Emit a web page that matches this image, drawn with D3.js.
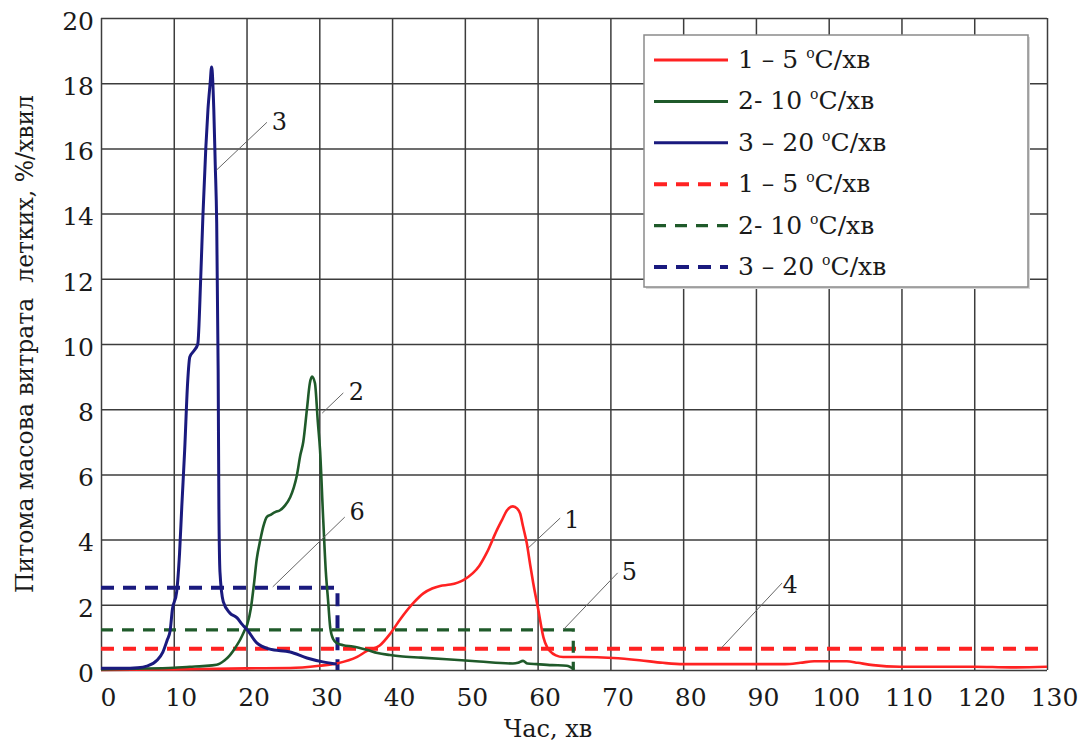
<!DOCTYPE html>
<html>
<head>
<meta charset="utf-8">
<script src="https://cdn.jsdelivr.net/npm/d3@7"></script>
<style>
    body { margin: 0; background: #fff; }
</style>
</head>
<body>
<svg id="chart" width="1087" height="745"></svg>
<script>
// ---------------------------  DATA  ---------------------------
// x = time (min), y = specific mass rate of volatiles (%/min)

const red_curve = [      // 1 – 5 ºC/хв
    [0, 0.0], [10, 0.02], [20, 0.05], [26, 0.06], [30, 0.13], [32.4, 0.2], [35.2, 0.4], [36.5, 0.58],
    [38.3, 0.75], [39.7, 1.1], [41.1, 1.55], [42.9, 2.05], [44.3, 2.35], [45.5, 2.5], [46.6, 2.58],
    [48.0, 2.62], [49.8, 2.76], [51.1, 2.97], [52, 3.2], [53.0, 3.59], [54.4, 4.29], [55.1, 4.6],
    [55.8, 4.9], [56.6, 5.02], [57.2, 4.95], [57.6, 4.8], [58.0, 4.4], [58.5, 3.9], [59.0, 3.2],
    [59.4, 2.66], [60.1, 1.84], [60.8, 1.0], [61.3, 0.7], [61.7, 0.58], [62.5, 0.45], [63.5, 0.4],
    [66, 0.4], [70.4, 0.37], [74, 0.3], [77.2, 0.22], [80, 0.18], [84.1, 0.18], [89.6, 0.18],
    [94, 0.18], [96.1, 0.22], [98, 0.27], [102.5, 0.27], [104, 0.22], [106.1, 0.15], [109.8, 0.1],
    [115, 0.1], [120, 0.1], [125, 0.08], [130, 0.1]
];

const green_curve = [    // 2- 10 ºC/хв
    [0, 0.02], [5, 0.04], [10, 0.07], [12.2, 0.1], [14, 0.12], [15.9, 0.16], [17, 0.3], [17.7, 0.45],
    [18.5, 0.7], [19.1, 0.92], [19.7, 1.2], [20.1, 1.4], [20.6, 1.9], [21.0, 2.6], [21.4, 3.4],
    [21.9, 4.0], [22.3, 4.4], [22.8, 4.7], [23.2, 4.75], [24.0, 4.85], [24.6, 4.9], [25.3, 5.05],
    [26.0, 5.3], [26.5, 5.6], [26.9, 5.95], [27.4, 6.6], [27.8, 7.0], [28.3, 8.0], [28.7, 8.8],
    [29.0, 9.0], [29.4, 8.8], [29.8, 7.6], [30.1, 6.75], [30.5, 4.8], [30.9, 3.0], [31.2, 2.15],
    [31.5, 1.3], [31.9, 0.95], [32.4, 0.83], [33.3, 0.76], [34.6, 0.72], [36.5, 0.62], [38, 0.52],
    [39.7, 0.46], [41.1, 0.42], [44, 0.38], [47.5, 0.33], [52, 0.26], [56.6, 0.2], [57.3, 0.22],
    [58.0, 0.28], [58.6, 0.2], [59.9, 0.18], [62, 0.15], [64.0, 0.13], [65.0, 0.02]
];

const blue_curve = [     // 3 – 20 ºC/хв
    [0, 0.05], [3, 0.05], [5, 0.07], [6.3, 0.12], [7.7, 0.3], [8.5, 0.55], [9.1, 0.92], [9.5, 1.2],
    [9.8, 1.84], [10.4, 2.4], [10.8, 3.6], [11.1, 5.0], [11.5, 6.75], [11.9, 8.8], [12.2, 9.6],
    [12.8, 9.8], [13.3, 10.0], [13.7, 12.0], [14.0, 13.9], [14.4, 16.0], [14.7, 17.2], [15.0, 18.0],
    [15.2, 18.5], [15.5, 17.2], [15.7, 15.5], [15.9, 13.7], [16.1, 9.2], [16.2, 5.0], [16.35, 3.0],
    [16.8, 2.1], [17.7, 1.75], [18.7, 1.6], [19.4, 1.4], [20.1, 1.23], [21.4, 0.83], [23.2, 0.64],
    [26, 0.55], [28.3, 0.37], [30.5, 0.25], [32.4, 0.18]
];

// averaged rates (dashed lines 4, 5, 6)
const red_mean   = [[0, 0.65], [130, 0.65]];
const green_mean = [[0, 1.23], [64.9, 1.23], [64.9, 0]];
const blue_mean  = [[0, 2.52], [32.5, 2.52], [32.5, 0]];

const x_ticks = [0, 10, 20, 30, 40, 50, 60, 70, 80, 90, 100, 110, 120, 130];
const y_ticks = [0, 2, 4, 6, 8, 10, 12, 14, 16, 18, 20];

const legend_labels = ["1 – 5 ", "2- 10 ", "3 – 20 ", "1 – 5 ", "2- 10 ", "3 – 20 "];

// curve numbers: label position and leader end, in data units
const callouts = [
    {label: "1", lx: 64.7, ly: 4.36, x1: 63.1, y1: 4.66, x2: 58.7, y2: 3.74},
    {label: "2", lx: 35.1, ly: 8.28, x1: 33.3, y1: 8.5,  x2: 30.4, y2: 7.88},
    {label: "3", lx: 24.5, ly: 16.56, x1: 22.8, y1: 16.8, x2: 15.9, y2: 15.34},
    {label: "4", lx: 94.7, ly: 2.36, x1: 93.6, y1: 2.67, x2: 85.1, y2: 0.64},
    {label: "5", lx: 72.6, ly: 2.76, x1: 71.0, y1: 2.98, x2: 63.5, y2: 1.23},
    {label: "6", lx: 35.2, ly: 4.6,  x1: 33.5, y1: 4.69, x2: 23.6, y2: 2.55}
];

const FONT = "DejaVu Serif";   // the only serif face that resolves here

// ---------------------------  LAYOUT  ---------------------------
const outer_width = 1087, outer_height = 745;
const margins = {left: 101, top: 18, right: 40, bottom: 75};
const plot_width = outer_width - margins.left - margins.right;
const plot_height = outer_height - margins.top - margins.bottom;

const svg = d3.select("#chart");
const g = svg.append("g").attr("transform", `translate(${margins.left}, ${margins.top})`);

const x_scale = d3.scaleLinear().domain([0, 130]).range([0, plot_width]);
const y_scale = d3.scaleLinear().domain([0, 20]).range([plot_height, 0]);

// ---------------------------  GRID + AXES  ---------------------------
const x_axis = g.append("g")
    .attr("transform", `translate(0, ${plot_height})`)
    .call(d3.axisBottom(x_scale).tickValues(x_ticks).tickSize(-plot_height).tickPadding(18));

const y_axis = g.append("g")
    .call(d3.axisLeft(y_scale).tickValues(y_ticks).tickSize(-plot_width).tickPadding(7));

[x_axis, y_axis].forEach(a => {
    a.attr("font-family", FONT);
    a.select(".domain").remove();
    a.selectAll(".tick line").attr("stroke", "#3c3c3c").attr("stroke-width", 1.5);
    a.selectAll(".tick text")
        .attr("font-family", FONT)
        .attr("font-size", 25)
        .attr("fill", "#1a1a1a");
});
x_axis.selectAll(".tick text").attr("dx", 7);
y_axis.selectAll(".tick text").attr("dy", "0.45em");

// ---------------------------  LINES  ---------------------------
const line_gen = d3.line()
    .x(d => x_scale(d[0]))
    .y(d => y_scale(d[1]));

const curve_gen = d3.line()
    .x(d => x_scale(d[0]))
    .y(d => y_scale(d[1]))
    .curve(d3.curveMonotoneX);

const dashed = [
    {data: red_mean,   color: "#ff2222", width: 4,   dash: "13,9"},
    {data: green_mean, color: "#1f5a2a", width: 3.2, dash: "12,9"},
    {data: blue_mean,  color: "#1a1a7e", width: 4,   dash: "13,9"}
];
dashed.forEach(s => {
    g.append("path")
        .attr("d", line_gen(s.data))
        .attr("fill", "none")
        .attr("stroke", s.color)
        .attr("stroke-width", s.width)
        .attr("stroke-dasharray", s.dash);
});

const solid = [
    {data: red_curve,   color: "#ff2222", width: 2.6},
    {data: green_curve, color: "#1f5a2a", width: 2.6},
    {data: blue_curve,  color: "#1a1a7e", width: 3}
];
solid.forEach(s => {
    g.append("path")
        .attr("d", curve_gen(s.data))
        .attr("fill", "none")
        .attr("stroke", s.color)
        .attr("stroke-width", s.width)
        .attr("stroke-linejoin", "round");
});

// ---------------------------  CALLOUTS  ---------------------------
callouts.forEach(c => {
    g.append("line")
        .attr("x1", x_scale(c.x1)).attr("y1", y_scale(c.y1))
        .attr("x2", x_scale(c.x2)).attr("y2", y_scale(c.y2))
        .attr("stroke", "#666").attr("stroke-width", 1);
    g.append("text")
        .attr("x", x_scale(c.lx)).attr("y", y_scale(c.ly))
        .attr("text-anchor", "middle")
        .attr("font-family", FONT)
        .attr("font-size", 24)
        .attr("fill", "#1a1a1a")
        .text(c.label);
});

// ---------------------------  LEGEND  ---------------------------
const legend = svg.append("g").attr("transform", "translate(644, 35)");
legend.append("rect")
    .attr("x", 2).attr("y", 2).attr("width", 384).attr("height", 252)
    .attr("fill", "#d8d8d8");
legend.append("rect")
    .attr("width", 384).attr("height", 252)
    .attr("fill", "#fff").attr("stroke", "#8a8a8a").attr("stroke-width", 1.5);

const legend_styles = [solid[0], solid[1], solid[2], dashed[0], dashed[1], dashed[2]];
legend_labels.forEach((lab, i) => {
    const yy = 25 + i * 41.4;
    const st = legend_styles[i];
    legend.append("line")
        .attr("x1", 10).attr("x2", 84).attr("y1", yy).attr("y2", yy)
        .attr("stroke", st.color)
        .attr("stroke-width", i < 3 ? 3 : st.width)
        .attr("stroke-dasharray", st.dash || null);
    const t = legend.append("text")
        .attr("x", 94).attr("y", yy + 8)
        .attr("font-family", FONT)
        .attr("font-size", 25)
        .attr("fill", "#1a1a1a")
        .style("white-space", "pre");
    t.append("tspan").text(lab);
    t.append("tspan").attr("font-size", 14).attr("dy", -10).text("o");
    t.append("tspan").attr("dy", 10).text("C/хв");
});

// ---------------------------  AXIS TITLES  ---------------------------
svg.append("text")
    .attr("x", 548).attr("y", 737)
    .attr("text-anchor", "middle")
    .attr("font-family", FONT)
    .attr("font-size", 24)
    .attr("fill", "#1a1a1a")
    .text("Час, хв");

svg.append("text")
    .attr("transform", "translate(33, 344) rotate(-90)")
    .attr("text-anchor", "middle")
    .attr("font-family", FONT)
    .attr("font-size", 23.5)
    .attr("fill", "#1a1a1a")
    .style("white-space", "pre")
    .text("Питома масова витрата  летких, %/хвил");
</script>
</body>
</html>
